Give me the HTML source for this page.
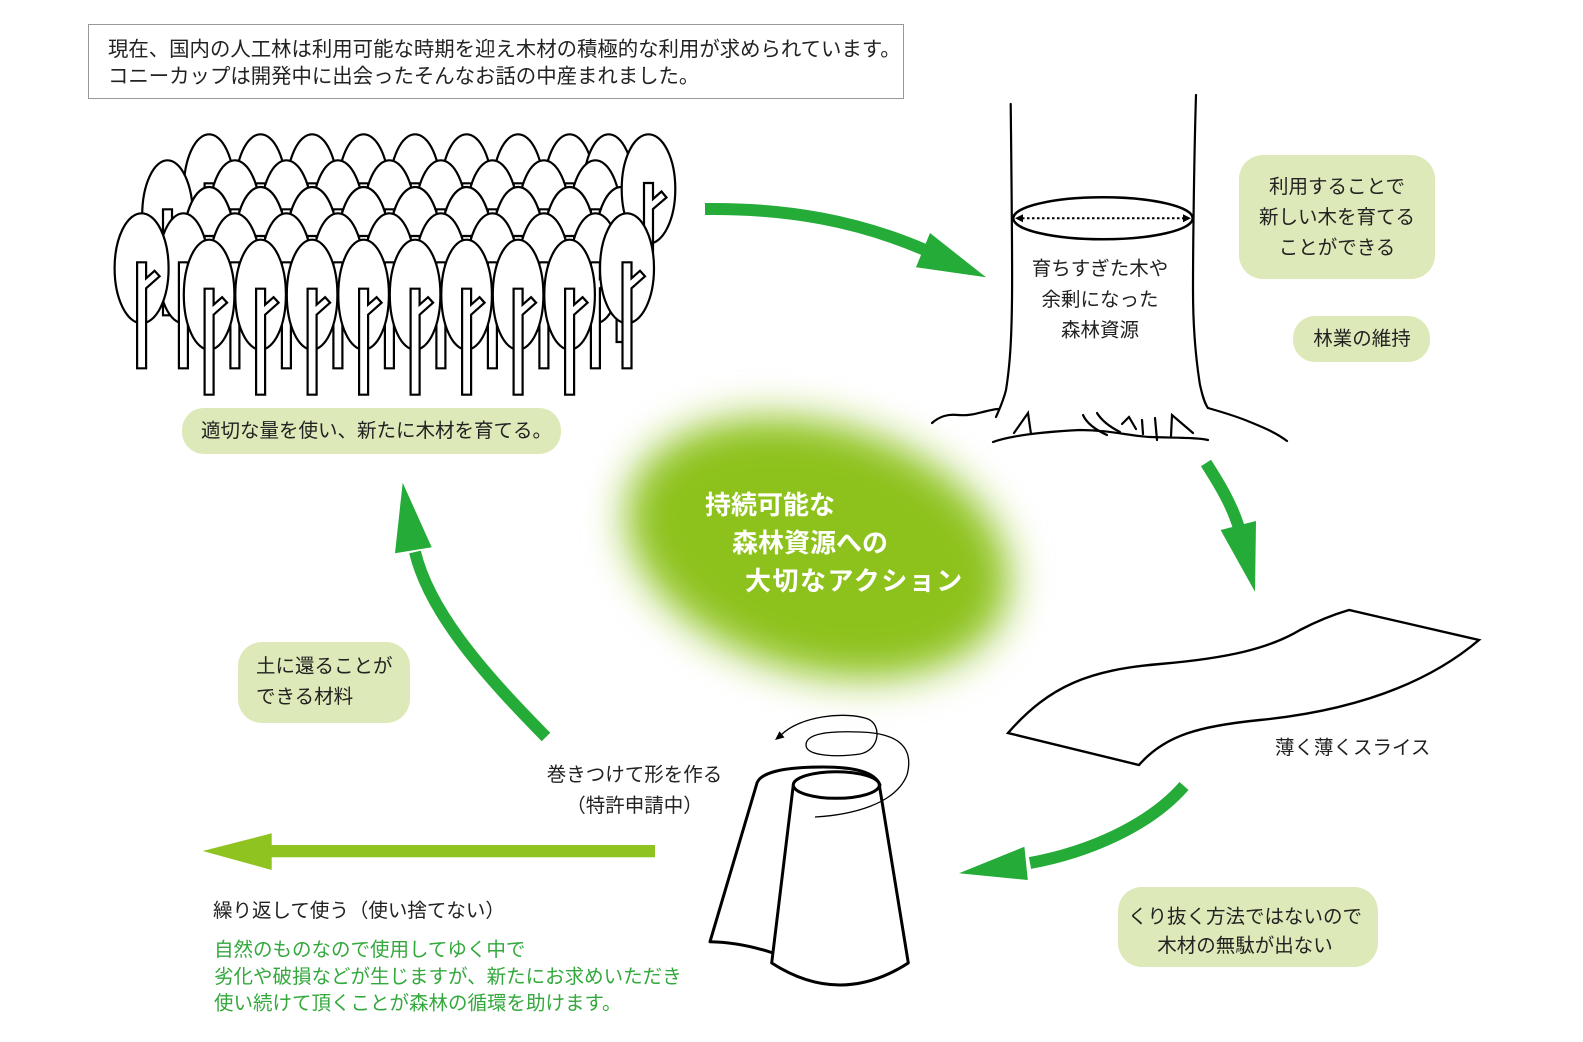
<!DOCTYPE html>
<html><head><meta charset="utf-8">
<style>
html,body{margin:0;padding:0;background:#fff;}
svg{display:block}
text{font-family:"Liberation Sans","Noto Sans CJK JP",sans-serif;fill:#222;}
</style></head>
<body>
<svg width="1583" height="1042" viewBox="0 0 1583 1042" xmlns="http://www.w3.org/2000/svg">
<defs>
  <g id="tr">
    <ellipse cx="0" cy="0" rx="25.3" ry="55" fill="#fff" stroke="#000" stroke-width="2.2"/>
    <polygon points="-4.5,-6 4.5,-6 4.5,10 13,2.5 18,8 4.5,20 4.5,100 -4.5,100" fill="#fff" stroke="#000" stroke-width="2.2"/>
  </g>
  <g id="trL">
    <ellipse cx="0" cy="0" rx="27" ry="55" fill="#fff" stroke="#000" stroke-width="2.2"/>
    <polygon points="-4.5,-6 4.5,-6 4.5,10 13,2.5 18,8 4.5,20 4.5,100 -4.5,100" fill="#fff" stroke="#000" stroke-width="2.2"/>
  </g>
  <filter id="bl" x="-50%" y="-50%" width="200%" height="200%">
    <feGaussianBlur stdDeviation="20"/>
  </filter>
</defs>

<!-- top note box -->
<rect x="88.5" y="24.5" width="815" height="74" fill="#fff" stroke="#999" stroke-width="1"/>
<text x="108" y="50" font-size="20.4" dominant-baseline="central">現在、国内の人工林は利用可能な時期を迎え木材の積極的な利用が求められています。</text>
<text x="108" y="77" font-size="20.4" dominant-baseline="central">コニーカップは開発中に出会ったそんなお話の中産まれました。</text>

<!-- center blob -->
<ellipse cx="818" cy="548" rx="196" ry="124" fill="#8dc21f" transform="rotate(16 818 548)" filter="url(#bl)"/>
<text x="705" y="505" font-size="26" font-weight="700" dominant-baseline="central" style="fill:#fff">持続可能な</text>
<text x="732" y="543" font-size="26" font-weight="700" dominant-baseline="central" style="fill:#fff">森林資源への</text>
<text x="745" y="581" font-size="26" font-weight="700" dominant-baseline="central" letter-spacing="1.5" style="fill:#fff">大切なアクション</text>

<!-- forest: row A -->
<use href="#tr" x="209.1" y="189.3"/><use href="#tr" x="260.6" y="189.3"/><use href="#tr" x="312.1" y="189.3"/>
<use href="#tr" x="363.6" y="189.3"/><use href="#tr" x="415.1" y="189.3"/><use href="#tr" x="466.6" y="189.3"/>
<use href="#tr" x="518.1" y="189.3"/><use href="#tr" x="569.6" y="189.3"/><use href="#tr" x="608.7" y="189.3"/>
<!-- row B -->
<use href="#tr" x="167.5" y="215.3"/><use href="#tr" x="234.9" y="215.3"/><use href="#tr" x="286.4" y="215.3"/>
<use href="#tr" x="337.9" y="215.3"/><use href="#tr" x="389.4" y="215.3"/><use href="#tr" x="440.9" y="215.3"/>
<use href="#tr" x="492.4" y="215.3"/><use href="#tr" x="543.9" y="215.3"/><use href="#tr" x="595.4" y="215.3"/>
<!-- row C -->
<use href="#tr" x="209.1" y="242"/><use href="#tr" x="260.6" y="242"/><use href="#tr" x="312.1" y="242"/>
<use href="#tr" x="363.6" y="242"/><use href="#tr" x="415.1" y="242"/><use href="#tr" x="466.6" y="242"/>
<use href="#tr" x="518.1" y="242"/><use href="#tr" x="569.6" y="242"/><use href="#tr" x="621.1" y="242"/>
<!-- big right back tree -->
<ellipse cx="648.5" cy="189" rx="26.8" ry="54.7" fill="#fff" stroke="#000" stroke-width="2.2"/>
<polygon points="644,183 653,183 653,199 661.5,191.5 666.5,197.5 653,209 653,252 644,252" fill="#fff" stroke="#000" stroke-width="2.2"/>
<!-- row D -->
<use href="#tr" x="183.4" y="268.3"/><use href="#tr" x="234.9" y="268.3"/><use href="#tr" x="286.4" y="268.3"/>
<use href="#tr" x="337.9" y="268.3"/><use href="#tr" x="389.4" y="268.3"/><use href="#tr" x="440.9" y="268.3"/>
<use href="#tr" x="492.4" y="268.3"/><use href="#tr" x="543.9" y="268.3"/><use href="#tr" x="595.4" y="268.3"/>
<!-- side trees -->
<use href="#trL" x="141.6" y="268.3"/>
<use href="#trL" x="627" y="268.3"/>
<!-- row E -->
<use href="#tr" x="209.1" y="294.7"/><use href="#tr" x="260.6" y="294.7"/><use href="#tr" x="312.1" y="294.7"/>
<use href="#tr" x="363.6" y="294.7"/><use href="#tr" x="415.1" y="294.7"/><use href="#tr" x="466.6" y="294.7"/>
<use href="#tr" x="518.1" y="294.7"/><use href="#tr" x="569.6" y="294.7"/>

<!-- forest label -->
<rect x="182" y="408" width="379" height="46" rx="22" fill="#dde9b8"/>
<text x="201" y="431" font-size="19.5" dominant-baseline="central">適切な量を使い、新たに木材を育てる。</text>

<!-- big trunk -->
<g fill="none" stroke="#000" stroke-width="2.2" stroke-linecap="round">
  <path d="M1010.7,104 C1011.5,180 1012.5,260 1012,300 C1011.5,340 1010,365 1006,390 C1003,402 999,410 996,417"/>
  <path d="M932,423 C940,416 948,414 958,415 C970,416 978,413 987,411 C992,410 995,409 998,409"/>
  <path d="M1196,95 C1194,160 1193,250 1193,290 C1193,330 1196,360 1200,385 C1203,398 1205,404 1208,408"/>
  <path d="M1208,408 C1222,412 1236,416 1250,422 C1262,427 1275,432 1287,441"/>
  <path d="M993,442 C1010,436 1040,432 1080,430 C1110,430 1130,436 1150,437 C1170,438 1195,437 1208,440"/>
  <path d="M1014,433 L1028,413 L1031,434"/>
  <path d="M1083,415 C1087,424 1096,430 1107,435"/>
  <path d="M1097,413 C1102,421 1110,427 1120,432"/>
  <path d="M1122,424 L1129,417 L1136,429"/>
  <path d="M1142,420 L1143,434"/>
  <path d="M1155,418 L1157,440"/>
  <path d="M1171,436 L1172,415 L1193,433"/>
</g>
<ellipse cx="1103" cy="218.3" rx="89.7" ry="21" fill="none" stroke="#000" stroke-width="2.5"/>
<line x1="1022" y1="218.3" x2="1184" y2="218.3" stroke="#000" stroke-width="2" stroke-dasharray="2.5,2.5"/>
<polygon points="1015,218.3 1023,214.3 1023,222.3" fill="#000"/>
<polygon points="1191,218.3 1183,214.3 1183,222.3" fill="#000"/>
<text x="1100" y="269" font-size="19.5" text-anchor="middle" dominant-baseline="central">育ちすぎた木や</text>
<text x="1100" y="300" font-size="19.5" text-anchor="middle" dominant-baseline="central">余剰になった</text>
<text x="1100" y="330.5" font-size="19.5" text-anchor="middle" dominant-baseline="central">森林資源</text>

<!-- right boxes -->
<rect x="1239" y="155" width="196" height="124" rx="24" fill="#dde9b8"/>
<text x="1337" y="187" font-size="19.5" text-anchor="middle" dominant-baseline="central">利用することで</text>
<text x="1337" y="217.5" font-size="19.5" text-anchor="middle" dominant-baseline="central">新しい木を育てる</text>
<text x="1337" y="248" font-size="19.5" text-anchor="middle" dominant-baseline="central">ことができる</text>
<rect x="1293" y="316" width="137" height="46" rx="22" fill="#dde9b8"/>
<text x="1362" y="339" font-size="19.5" text-anchor="middle" dominant-baseline="central">林業の維持</text>

<!-- slice -->
<path d="M1008,733 C1050,685 1090,670 1160,664 C1230,658 1270,648 1300,630 Q1325,617 1349,610 L1479,640 C1420,690 1340,712 1260,720 C1200,726 1165,735 1139,765 Z" fill="#fff" stroke="#000" stroke-width="2.4" stroke-linejoin="miter"/>
<text x="1275" y="748" font-size="19.5" dominant-baseline="central">薄く薄くスライス</text>

<rect x="1118" y="887" width="260" height="80" rx="24" fill="#dde9b8"/>
<text x="1245" y="917" font-size="19.5" text-anchor="middle" dominant-baseline="central">くり抜く方法ではないので</text>
<text x="1245" y="946" font-size="19.5" text-anchor="middle" dominant-baseline="central">木材の無駄が出ない</text>

<!-- cup -->
<path d="M773,953 C752,946 730,942 710,941.7 L757,783 C761,772 785,767 823,767 C855,767 875,772 880,785 L800,900 Z" fill="#fff" stroke="#000" stroke-width="3" stroke-linejoin="round"/>
<path d="M793.3,785 L771.7,963 Q840,1007 908.3,963 L879.3,785 Z" fill="#fff" stroke="#000" stroke-width="3" stroke-linejoin="round"/>
<ellipse cx="836.3" cy="785" rx="43" ry="13.3" fill="#fff" stroke="#000" stroke-width="3"/>
<path d="M815,817 C850,815 895,805 907,775 C915,745 895,733 860,732 C830,731 806,733 806,745 C806,757 840,757 860,754 C880,750 882,725 868,719 C845,711 800,716 781,735" fill="none" stroke="#000" stroke-width="1.3"/>
<polygon points="775,740 784.5,737.5 779.5,731.3" fill="#000"/>

<text x="634.5" y="775" font-size="19.5" text-anchor="middle" dominant-baseline="central">巻きつけて形を作る</text>
<text x="634.5" y="806" font-size="19.5" text-anchor="middle" dominant-baseline="central">（特許申請中）</text>

<!-- left box -->
<rect x="238" y="642" width="172" height="81" rx="24" fill="#dde9b8"/>
<text x="256" y="666.5" font-size="19.5" dominant-baseline="central">土に還ることが</text>
<text x="256" y="697" font-size="19.5" dominant-baseline="central">できる材料</text>

<!-- arrows -->
<g fill="none" stroke="#25ab38" stroke-width="12">
  <path d="M705,209 C790,208 860,222 925,250"/>
  <path d="M1206,463 C1220,485 1232,505 1239,528"/>
  <path d="M1184,786 C1150,825 1090,852 1030,863"/>
  <path d="M546,737 C490,680 430,615 415,552"/>
</g>
<g fill="#25ab38">
  <polygon points="930,233 916,267.3 986,277.3"/>
  <polygon points="1220.6,530 1256,521 1255,591.7"/>
  <polygon points="1024.4,846.7 1027.8,880 959,873.3"/>
  <polygon points="395,553.3 431.7,547.3 402.7,482.7"/>
</g>
<rect x="270" y="845" width="385" height="12.3" fill="#8fc31f"/>
<polygon points="271.7,833.3 271.7,870 202.7,851" fill="#8fc31f"/>

<!-- bottom texts -->
<text x="213" y="911" font-size="19.5" dominant-baseline="central">繰り返して使う（使い捨てない）</text>
<text x="214" y="950" font-size="19.5" dominant-baseline="central" style="fill:#33a83c">自然のものなので使用してゆく中で</text>
<text x="214" y="977" font-size="19.5" dominant-baseline="central" style="fill:#33a83c">劣化や破損などが生じますが、新たにお求めいただき</text>
<text x="214" y="1003.5" font-size="19.5" dominant-baseline="central" style="fill:#33a83c">使い続けて頂くことが森林の循環を助けます。</text>
</svg>
</body></html>
